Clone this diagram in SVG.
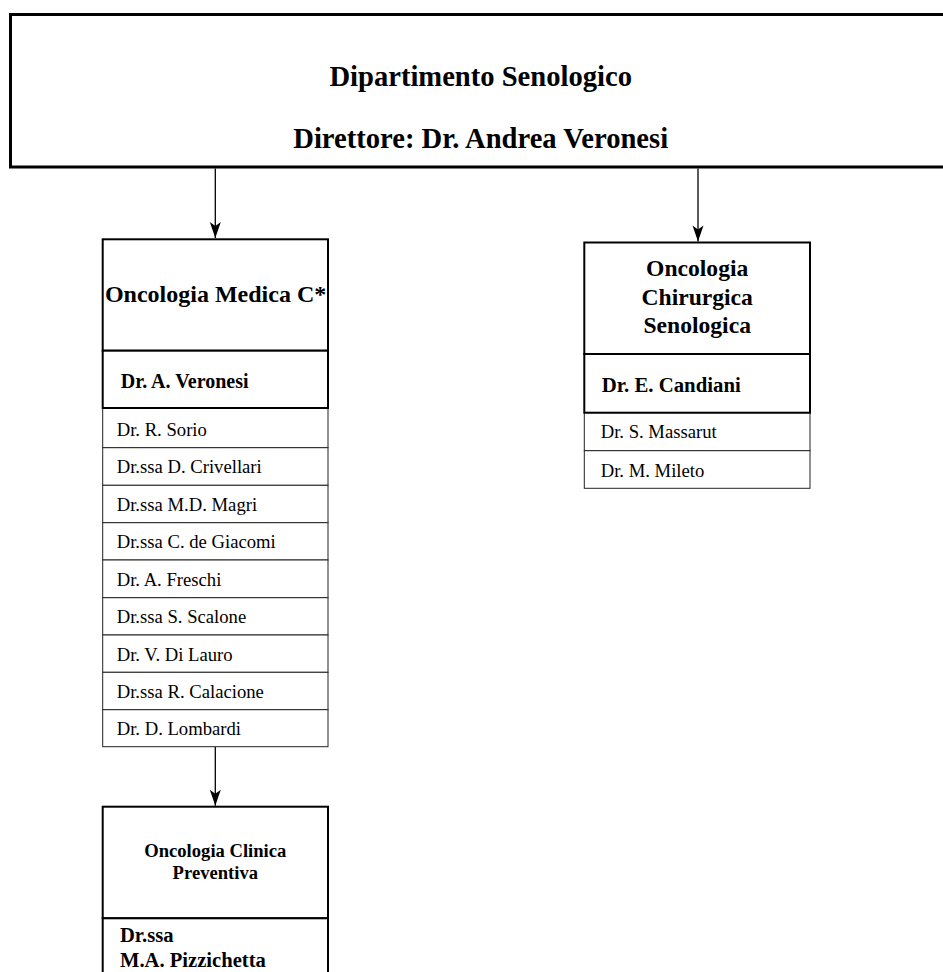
<svg xmlns="http://www.w3.org/2000/svg" width="943" height="972" viewBox="0 0 943 972">
<style>
text{font-family:"Liberation Serif","Times New Roman",serif;fill:#000}
.b{font-weight:bold}
.thick{fill:#fff;stroke:#000;stroke-width:2}
.thin{fill:#fff;stroke:#222;stroke-width:1}
.conn{stroke:#000;stroke-width:1.3;fill:none;marker-end:url(#ah)}
.r{font-size:18.67px}
</style>
<defs>
<marker id="ah" markerUnits="userSpaceOnUse" markerWidth="18" markerHeight="14" viewBox="-17 -7 18 14" refX="0" refY="0" orient="auto">
<path d="M0,0 L-16,-5.5 L-12,0 L-16,5.5 Z" fill="#000"/>
</marker>
</defs>
<rect width="943" height="972" fill="#fff"/>
<g id="header">
<rect x="10.5" y="14.5" width="945" height="152.5" fill="#fff" stroke="#000" stroke-width="3"/>
<text class="b" x="480.7" y="86" font-size="28.6" text-anchor="middle">Dipartimento Senologico</text>
<text class="b" x="480.7" y="148.3" font-size="28.6" text-anchor="middle">Direttore: Dr. Andrea Veronesi</text>
</g>
<g id="connectors">
<line class="conn" x1="215.3" y1="168.5" x2="215.3" y2="238"/>
<line class="conn" x1="698" y1="168.5" x2="698" y2="241.5"/>
<line class="conn" x1="215.3" y1="747" x2="215.3" y2="805.7"/>
</g>
<g id="oncologia-medica">
<rect class="thin" x="102.7" y="408" width="225.3" height="39.7"/>
<rect class="thin" x="102.7" y="447.7" width="225.3" height="37.6"/>
<rect class="thin" x="102.7" y="485.3" width="225.3" height="37.4"/>
<rect class="thin" x="102.7" y="522.7" width="225.3" height="37.3"/>
<rect class="thin" x="102.7" y="560" width="225.3" height="37.7"/>
<rect class="thin" x="102.7" y="597.7" width="225.3" height="37.3"/>
<rect class="thin" x="102.7" y="635" width="225.3" height="37.3"/>
<rect class="thin" x="102.7" y="672.3" width="225.3" height="37.4"/>
<rect class="thin" x="102.7" y="709.7" width="225.3" height="37"/>
<rect class="thick" x="102.7" y="239.3" width="225.3" height="111.4"/>
<rect class="thick" x="102.7" y="350.7" width="225.3" height="57.3"/>
<text class="b" x="215.6" y="301.7" font-size="24" text-anchor="middle">Oncologia Medica C*</text>
<text class="b" x="120.7" y="388" font-size="20">Dr. A. Veronesi</text>
<text class="r" x="116.7" y="435.5">Dr. R. Sorio</text>
<text class="r" x="116.7" y="473">Dr.ssa D. Crivellari</text>
<text class="r" x="116.7" y="510.5">Dr.ssa M.D. Magri</text>
<text class="r" x="116.7" y="548">Dr.ssa C. de Giacomi</text>
<text class="r" x="116.7" y="585.5">Dr. A. Freschi</text>
<text class="r" x="116.7" y="623">Dr.ssa S. Scalone</text>
<text class="r" x="116.7" y="660.5">Dr. V. Di Lauro</text>
<text class="r" x="116.7" y="698">Dr.ssa R. Calacione</text>
<text class="r" x="116.7" y="735">Dr. D. Lombardi</text>
</g>
<g id="oncologia-chirurgica">
<rect class="thin" x="584.3" y="412.7" width="225.7" height="38"/>
<rect class="thin" x="584.3" y="450.7" width="225.7" height="37.6"/>
<rect class="thick" x="584.3" y="242.5" width="225.7" height="111.5"/>
<rect class="thick" x="584.3" y="354" width="225.7" height="58.7"/>
<text class="b" x="697.2" y="276" font-size="23.6" text-anchor="middle">Oncologia</text>
<text class="b" x="697.2" y="304.5" font-size="23.6" text-anchor="middle">Chirurgica</text>
<text class="b" x="697.2" y="333" font-size="23.6" text-anchor="middle">Senologica</text>
<text class="b" x="601.7" y="391.7" font-size="20.8">Dr. E. Candiani</text>
<text class="r" x="600.7" y="438">Dr. S. Massarut</text>
<text class="r" x="600.7" y="476.7">Dr. M. Mileto</text>
</g>
<g id="oncologia-clinica">
<rect class="thick" x="102.7" y="806.7" width="225.3" height="111.6"/>
<rect class="thick" x="102.7" y="918.3" width="225.3" height="70"/>
<text class="b" x="215.3" y="857.3" font-size="18.6" text-anchor="middle">Oncologia Clinica</text>
<text class="b" x="215.3" y="879.3" font-size="18.6" text-anchor="middle">Preventiva</text>
<text class="b" x="120" y="941.7" font-size="20.6">Dr.ssa</text>
<text class="b" x="120" y="966.7" font-size="20.6">M.A. Pizzichetta</text>
</g>
</svg>
